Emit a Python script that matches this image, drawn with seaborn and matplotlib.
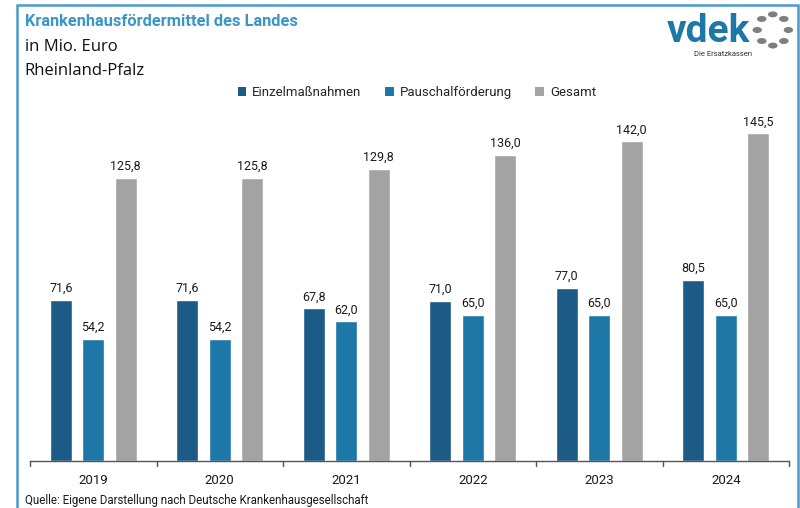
import matplotlib
matplotlib.use("Agg")
import matplotlib.pyplot as plt
import seaborn as sns
import pandas as pd
import numpy as np
from matplotlib.patches import Rectangle, Ellipse, Patch

years = ["2019", "2020", "2021", "2022", "2023", "2024"]
einzel = [71.6, 71.6, 67.8, 71.0, 77.0, 80.5]
pausch = [54.2, 54.2, 62.0, 65.0, 65.0, 65.0]
gesamt = [125.8, 125.8, 129.8, 136.0, 142.0, 145.5]
series = ["Einzelmaßnahmen", "Pauschalförderung", "Gesamt"]
colors = ["#1b5b86", "#1d78a8", "#a3a3a3"]

rows = []
for name, vals in zip(series, [einzel, pausch, gesamt]):
    for y, v in zip(years, vals):
        rows.append({"Jahr": y, "Serie": name, "Wert": v})
df = pd.DataFrame(rows)

sns.set_theme(style="white")
NARROW = ["Roboto", "DejaVu Sans"]
plt.rcParams["font.family"] = ["Open Sans", "DejaVu Sans"]

fig = plt.figure(figsize=(8, 5.08), dpi=100)
ax = fig.add_axes([0.0375, 0.0925, 0.9488, 0.705])

sns.barplot(data=df, x="Jahr", y="Wert", hue="Serie", hue_order=series,
            palette=colors, width=0.77, gap=0.32, ax=ax, legend=False,
            saturation=1, errorbar=None)

for cont in ax.containers:
    labels = [f"{v:.1f}".replace(".", ",") for v in cont.datavalues]
    ax.bar_label(cont, labels=labels, padding=3.5, fontsize=9, color="#1a1a1a",
                 family=NARROW)

ax.set_xlim(-0.5, 5.5)
ax.set_ylim(0, 159)
ax.set_xlabel("")
ax.set_ylabel("")
ax.set_yticks([])
for s in ["top", "right", "left"]:
    ax.spines[s].set_visible(False)
ax.spines["bottom"].set_color("#555555")
ax.spines["bottom"].set_linewidth(1.0)
ax.set_xticks(list(range(6)))
ax.set_xticklabels(years, fontsize=9.5, color="#1a1a1a", family=NARROW)
ax.tick_params(axis="x", length=0, pad=9)
for b in [i - 0.5 for i in range(7)]:
    ax.plot([b, b], [0, -2.0], color="#555555", lw=1.0, clip_on=False)

handles = [Patch(facecolor=c, edgecolor="none") for c in colors]
fig.legend(handles, series, loc="center", bbox_to_anchor=(0.521, 0.818), ncol=3,
           frameon=False, prop={"family": NARROW, "size": 9.5},
           handlelength=0.65, handleheight=0.65,
           handletextpad=0.45, columnspacing=1.8)

fig.text(0.031, 0.957, "Krankenhausfördermittel des Landes", fontsize=11.8,
         color="#3a96c6", fontweight="bold", va="center", family=NARROW)
fig.text(0.031, 0.908, "in Mio. Euro", fontsize=12, color="#111111", va="center")
fig.text(0.031, 0.86, "Rheinland-Pfalz", fontsize=12, color="#111111", va="center")
fig.text(0.031, 0.014, "Quelle: Eigene Darstellung nach Deutsche Krankenhausgesellschaft",
         fontsize=8.3, color="#1a1a1a", va="center", family=NARROW)

# logo
fig.text(0.938, 0.917, "vdek", fontsize=28, color="#1d78a8", fontweight="bold",
         ha="right", va="baseline", family=NARROW)
fig.text(0.94, 0.893, "Die Ersatzkassen", fontsize=5.5, color="#333333",
         ha="right", va="center", family=NARROW)
cx, cy, rx = 0.966, 0.941, 0.0195
ry = rx * 800 / 508
for k in range(8):
    a = np.pi / 2 + k * 2 * np.pi / 8
    fig.patches.append(Ellipse((cx + rx * np.cos(a), cy + ry * np.sin(a)),
                               0.012, 0.012 * 800 / 508 * 0.62,
                               angle=np.degrees(a) + 90,
                               transform=fig.transFigure,
                               facecolor="#7f7f7f", edgecolor="none"))

fig.patches.append(Rectangle((0.021, -0.05), 0.976, 1.04, transform=fig.transFigure,
                             fill=False, edgecolor="#4a9acb", linewidth=1.8))

fig.savefig("out.png", dpi=100)
